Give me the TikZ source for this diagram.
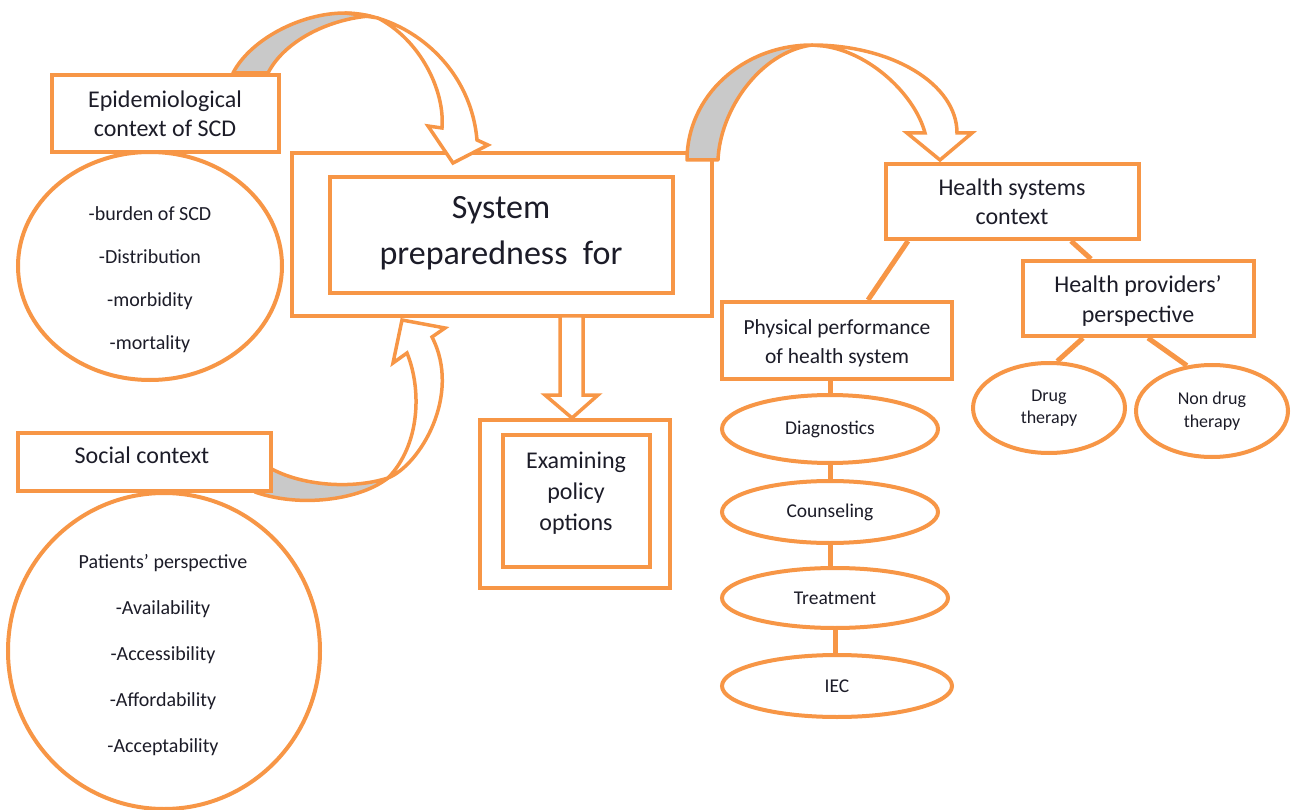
\documentclass[tikz,border=0pt]{standalone}
\usepackage{fontspec}
\setmainfont{Carlito}
\usetikzlibrary{shapes.geometric,fit,calc}
\definecolor{orng}{HTML}{F79646}
\definecolor{grayb}{HTML}{C9C9C9}
\definecolor{txtc}{HTML}{1C1C28}
\newcommand\fBig{\fontsize{34}{46}\selectfont}
\newcommand\fMid{\fontsize{24}{29.5}\selectfont}
\newcommand\fExam{\fontsize{24}{31}\selectfont}
\newcommand\fPhys{\fontsize{21.5}{29}\selectfont}
\newcommand\fEpiL{\fontsize{20}{43}\selectfont}
\newcommand\fSocL{\fontsize{20}{46}\selectfont}
\newcommand\fEll{\fontsize{19.5}{24}\selectfont}
\newcommand\fDrug{\fontsize{18}{22.5}\selectfont}
\begin{document}
\begin{tikzpicture}[x=1pt,y=-1pt,
  box/.style={draw=orng, line width=4pt, fill=white, inner sep=0pt, align=center, text=txtc},
  ell/.style={ellipse, draw=orng, line width=4pt, fill=white, inner sep=0pt, align=center, text=txtc},
  lbl/.style={align=center, text=txtc, inner sep=0pt},
  conn/.style={draw=orng, line width=5pt},
  barrow/.style={draw=orng, line width=3.5pt, fill=white, line join=miter},
  gback/.style={draw=orng, line width=3.5pt, fill=grayb, line join=round}]
\useasboundingbox (0,0) rectangle (1296,810);

% central box
\node[box, fit={(292,153) (712,316)}] (sysout) {};
\node[box, fit={(330,177) (673,293)}] (sysin) {};
\node[lbl, font=\fBig] (systxt) at (501,233) {System\\preparedness~ for};

% circles on the left
\node[ell, minimum width=264pt, minimum height=228pt] (epicirc) at (150,266) {};
\node[lbl, font=\fEpiL] (epilist) at (150,280) {-burden of SCD\\-Distribution\\-morbidity\\-mortality};
\node[ell, minimum width=312pt, minimum height=316pt] (soccirc) at (164,651) {};
\node[lbl, font=\fSocL] (soclist) at (163,655) {Patients’ perspective\\-Availability\\-Accessibility\\-Affordability\\-Acceptability};

% top-left curved arrow
\path[barrow] (345,13) .. controls (400,13) and (470,60) .. (477,140) -- (488,145) -- (453,163) -- (428,126) -- (442,128) .. controls (445,90) and (420,40) .. (378,18) -- cycle;
\path[gback] (233,73) .. controls (250,40) and (300,13) .. (345,13) -- (370,16) .. controls (330,19) and (285,40) .. (268,73) -- cycle;

% bottom-left curved arrow
\path[gback] (270,468) .. controls (300,485) and (350,490) .. (388,478) .. controls (360,500) and (300,508) .. (255,492) -- cycle;
\path[barrow] (388,478) .. controls (420,465) and (462,395) .. (432,337) -- (445,328) -- (402,320) -- (393,363) -- (407,353) .. controls (422,390) and (420,445) .. (388,478) -- cycle;

% top-right curved arrow
\path[barrow] (812,45) .. controls (892,45) and (957,84) .. (957,133) -- (972,133) -- (940,160) -- (907,133) -- (925,133) .. controls (915,95) and (870,52) .. (823,46) -- cycle;
\path[gback] (687,160) .. controls (687,96) and (743,45) .. (812,45) .. controls (760,52) and (720,110) .. (718,160) -- cycle;

% left boxes
\node[box, fit={(52,75) (279,152)}] (epi) {};
\node[lbl, font=\fMid] (epitxt) at (165,114) {Epidemiological\\context of SCD};
\node[box, fit={(18,433) (271,491)}] (soc) {};
\node[lbl, font=\fMid] (soctxt) at (142,455) {Social context};

% examining policy options
\node[box, fit={(480,420) (670,588)}] (exout) {};
\node[box, fit={(503,435) (650,567)}] (exin) {};
\node[lbl, font=\fExam] (extxt) at (576,493) {Examining\\policy\\options};
\path[barrow] (560,316) -- (560,395) -- (545,395) -- (572,418) -- (598,395) -- (583,395) -- (583,316) -- cycle;

% right part
\node[box, fit={(886,164) (1139,239)}] (hs) {};
\node[lbl, font=\fMid] (hstxt) at (1012,202) {Health systems\\context};
\node[box, fit={(1023,261) (1254,336)}] (hp) {};
\node[lbl, font=\fMid] (hptxt) at (1138,301) {Health providers’\\perspective};
\node[box, fit={(722,302) (952,379)}] (phys) {};
\node[lbl, font=\fPhys] (phystxt) at (837,343) {Physical performance\\of health system};

\node[ell, minimum width=216pt, minimum height=68pt, font=\fEll] (diag) at (830,429) {Diagnostics};
\node[ell, minimum width=216pt, minimum height=62pt, font=\fEll] (couns) at (830,512) {Counseling};
\node[ell, minimum width=226pt, minimum height=60pt, font=\fEll] (treat) at (835,598) {Treatment};
\node[ell, minimum width=230pt, minimum height=62pt, font=\fEll] (iec) at (837,686) {IEC};

\node[ell, minimum width=152pt, minimum height=90pt, font=\fDrug] (drug) at (1049,408) {Drug\\therapy};
\node[ell, minimum width=152pt, minimum height=92pt, font=\fDrug] (ndrug) at (1212,411) {Non drug\\therapy};

% connectors
\draw[conn] ($(hs.south west)+(24,0)$) -- ($(phys.north west)+(148,0)$);
\draw[conn] ($(hs.south west)+(187,0)$) -- ($(hp.north west)+(70,0)$);
\draw[conn] (phys.south -| diag.north) -- (diag.north);
\draw[conn] (diag.south) -- (couns.north);
\draw[conn] (couns.south) -- (treat.north -| couns.south);
\draw[conn] (treat.south) -- (iec.north -| treat.south);
\draw[conn] ($(hp.south west)+(62,0)$) -- (drug.80);
\draw[conn] ($(hp.south west)+(127,0)$) -- (ndrug.119);
\end{tikzpicture}
\end{document}
